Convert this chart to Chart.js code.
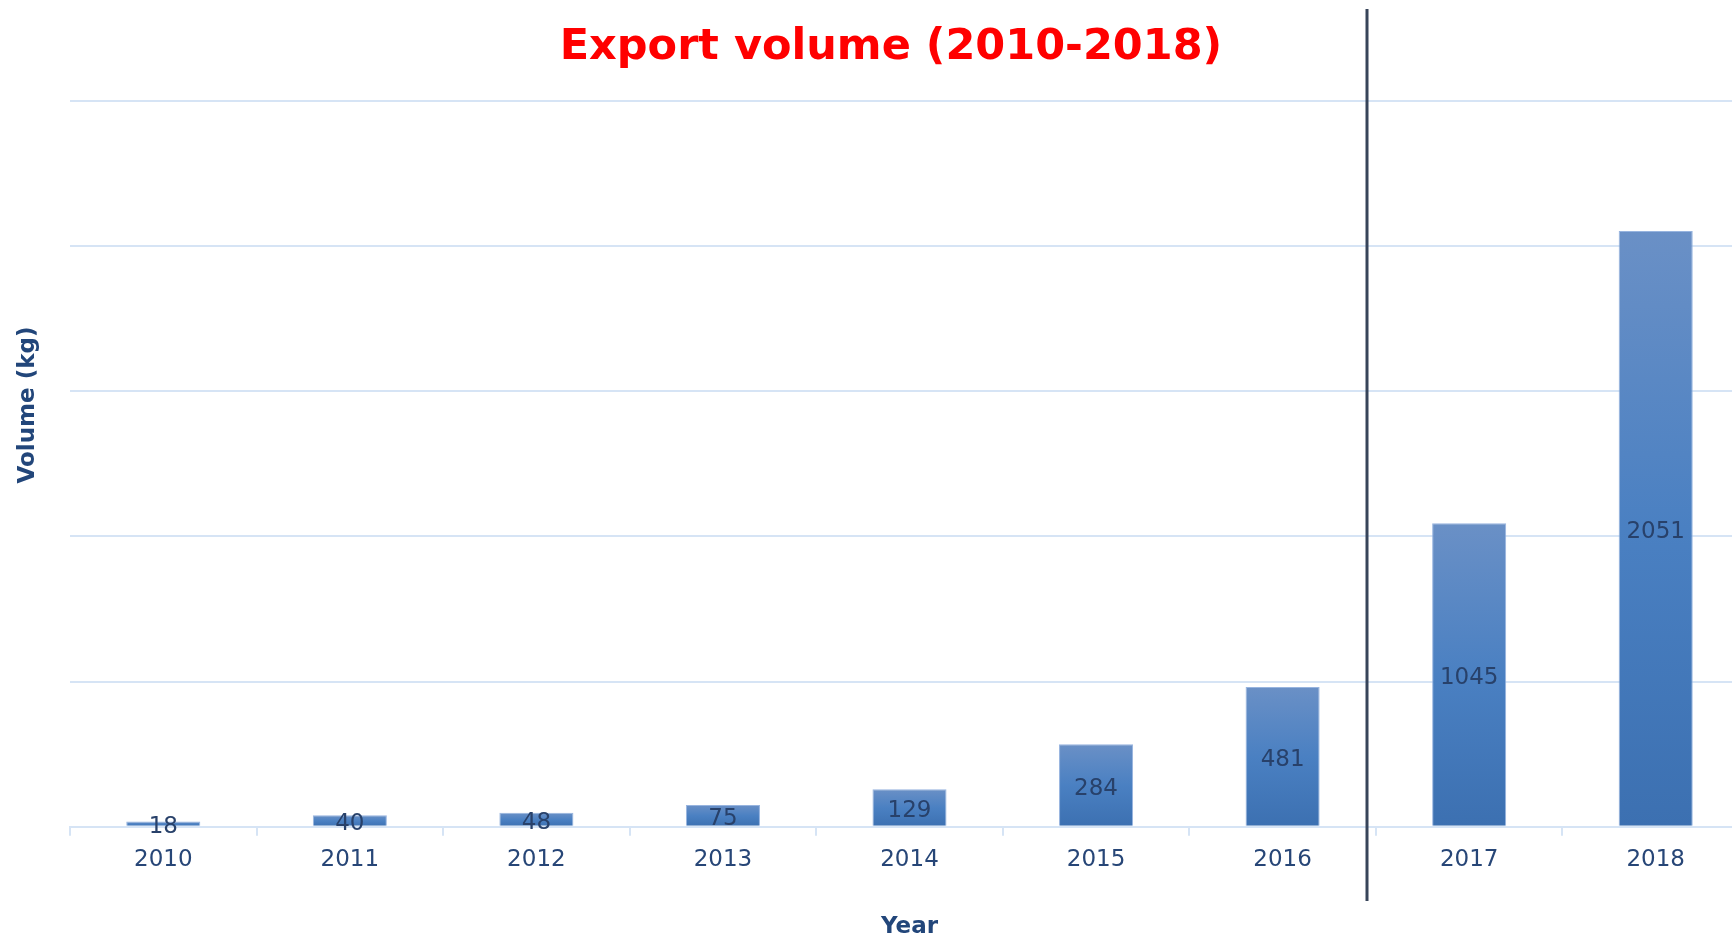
<!DOCTYPE html>
<html>
<head>
<meta charset="utf-8">
<script src="https://cdn.jsdelivr.net/npm/chart.js@4/dist/chart.umd.min.js"></script>
<style>
  html, body { margin: 0; padding: 0; background: #fff; overflow: hidden; }
  .wrap { width: 1732px; height: 941px; overflow: hidden; }
</style>
</head>
<body>
<div class="wrap"><canvas id="exportChart" width="1782" height="941"></canvas></div>
<script>
const years = ['2010', '2011', '2012', '2013', '2014', '2015', '2016', '2017', '2018']
const volumes = [18, 40, 48, 75, 129, 284, 481, 1045, 2051]
const yMax = 2500
const yStep = 500
// divider sits between 2016 and 2017 (category units)
const dividerAt = 6.455

const FONT = "'DejaVu Sans', Verdana, sans-serif"

// per-bar vertical gradient, lighter at the top
const barGradient = (context) => {
  const { chart, dataIndex } = context
  if (!chart.chartArea) return '#4a7fc0'
  const y = chart.scales.y
  const top = y.getPixelForValue(volumes[dataIndex])
  const bottom = y.getPixelForValue(0)
  const g = chart.ctx.createLinearGradient(0, top, 0, bottom)
  g.addColorStop(0, '#6a90c6')
  g.addColorStop(0.5, '#4a80c2')
  g.addColorStop(1, '#3c70b1')
  return g
}

// value labels in the middle of each bar
const barValueLabels = {
  id: 'barValueLabels',
  afterDatasetsDraw(chart) {
    const { ctx } = chart
    ctx.save()
    ctx.font = '23px ' + FONT
    ctx.fillStyle = '#28416a'
    ctx.textAlign = 'center'
    ctx.textBaseline = 'alphabetic'
    chart.getDatasetMeta(0).data.forEach((bar, i) => {
      ctx.fillText(String(volumes[i]), bar.x, (bar.y + bar.base) / 2 + 9.5)
    })
    ctx.restore()
  },
}

// vertical divider line + rotated y axis title
const decorations = {
  id: 'decorations',
  afterDraw(chart) {
    const { ctx } = chart
    const x = chart.scales.x
    const x0 = x.getPixelForValue(Math.floor(dividerAt))
    const x1 = x.getPixelForValue(Math.floor(dividerAt) + 1)
    const lx = Math.round(x0 + (x1 - x0) * (dividerAt % 1))
    ctx.save()
    ctx.strokeStyle = '#38455a'
    ctx.lineWidth = 3
    ctx.beginPath()
    ctx.moveTo(lx, 9)
    ctx.lineTo(lx, 901)
    ctx.stroke()

    ctx.translate(28, 405)
    ctx.rotate(-Math.PI / 2)
    ctx.font = 'bold 23px ' + FONT
    ctx.fillStyle = '#22467a'
    ctx.textAlign = 'center'
    ctx.textBaseline = 'middle'
    ctx.fillText('Volume (kg)', 0, 0)
    ctx.restore()
  },
}

new Chart(document.getElementById('exportChart'), {
  type: 'bar',
  data: {
    labels: years,
    datasets: [
      {
        data: volumes,
        backgroundColor: barGradient,
        borderColor: 'rgba(140,172,220,0.9)',
        borderWidth: 1,
        categoryPercentage: 1,
        barPercentage: 0.397,
      },
    ],
  },
  options: {
    responsive: false,
    animation: false,
    layout: { padding: 0 },
    plugins: {
      legend: { display: false },
      tooltip: { enabled: false },
      title: {
        display: true,
        text: 'Export volume (2010-2018)',
        color: '#ff0000',
        font: { family: FONT, size: 43, weight: 'bold', lineHeight: 1.2 },
        padding: { top: 22, bottom: 27 },
      },
    },
    scales: {
      x: {
        grid: {
          display: true,
          drawOnChartArea: false,
          drawTicks: true,
          tickLength: 9,
          color: '#d6e4f5',
          lineWidth: 2,
          offset: true,
        },
        border: { display: true, color: '#d6e4f5', width: 2 },
        ticks: {
          color: '#274677',
          padding: 10,
          font: { family: FONT, size: 23 },
        },
        title: {
          display: true,
          text: 'Year',
          color: '#22467a',
          font: { family: FONT, size: 23, weight: 'bold', lineHeight: 1.2 },
          padding: { top: 30, bottom: 0 },
        },
      },
      y: {
        min: 0,
        max: yMax,
        ticks: { display: false, stepSize: yStep },
        grid: { color: '#d6e4f5', lineWidth: 2, drawTicks: false },
        border: { display: false },
        afterFit: (scale) => { scale.width = 70 },
      },
      // empty spacer on the right so the plot runs past the visible edge
      yRight: {
        position: 'right',
        ticks: { display: false },
        grid: { display: false },
        border: { display: false },
        afterFit: (scale) => { scale.width = 33 },
      },
    },
  },
  plugins: [barValueLabels, decorations],
})
</script>
</body>
</html>
